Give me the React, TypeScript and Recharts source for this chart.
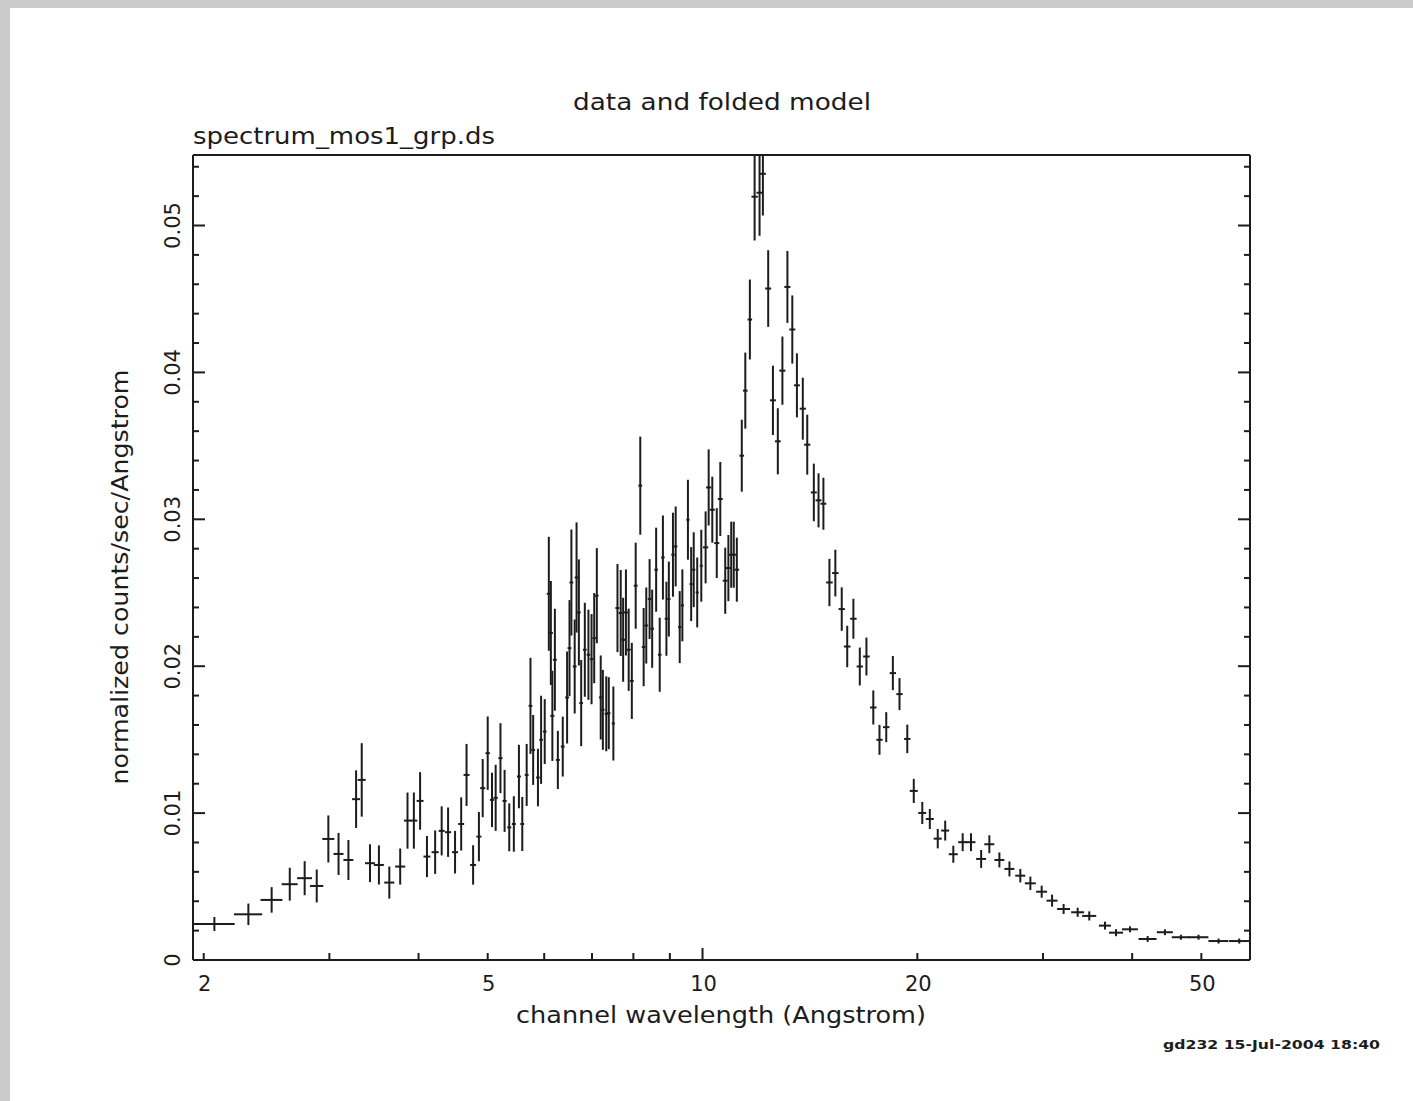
import React from "react";
import { ScatterChart, Scatter, XAxis, YAxis, ErrorBar } from "recharts";

// channel wavelength (Angstrom), bin centres
const wavelength = [
  2.07, 2.31, 2.49, 2.64, 2.77, 2.88, 2.99, 3.09, 3.19, 3.27,
  3.33, 3.42, 3.52, 3.64, 3.77, 3.86, 3.94, 4.02, 4.11, 4.22,
  4.31, 4.40, 4.50, 4.59, 4.67, 4.77, 4.86, 4.92, 5.00, 5.07,
  5.13, 5.21, 5.28, 5.36, 5.44, 5.53, 5.59, 5.67, 5.74, 5.79,
  5.88, 5.94, 6.01, 6.09, 6.13, 6.16, 6.21, 6.27, 6.37, 6.46,
  6.51, 6.55, 6.62, 6.66, 6.71, 6.76, 6.84, 6.92, 6.99, 7.05,
  7.11, 7.20, 7.25, 7.33, 7.39, 7.50, 7.60, 7.68, 7.74, 7.81,
  7.88, 7.96, 8.06, 8.18, 8.27, 8.34, 8.43, 8.50, 8.61, 8.71,
  8.80, 8.90, 8.97, 9.09, 9.17, 9.29, 9.37, 9.54, 9.64, 9.72,
  9.83, 9.96, 10.10, 10.20, 10.32, 10.47, 10.59, 10.76, 10.87, 10.97,
  11.06, 11.17, 11.35, 11.48, 11.65, 11.83, 12.02, 12.15, 12.36, 12.55,
  12.75, 12.94, 13.15, 13.36, 13.56, 13.82, 14.02, 14.32, 14.54, 14.77,
  15.06, 15.35, 15.67, 15.95, 16.27, 16.61, 16.97, 17.35, 17.70, 18.09,
  18.48, 18.88, 19.36, 19.77, 20.32, 20.82, 21.36, 21.88, 22.46, 23.15,
  23.78, 24.57, 25.23, 26.06, 26.92, 27.88, 28.80, 29.87, 30.89, 32.06,
  33.55, 34.83, 36.64, 37.97, 39.72, 42.05, 44.46, 46.81, 49.55, 52.86,
  56.50,
];

// half width of each channel bin (Angstrom)
const binHalf = [
  0.140, 0.105, 0.088, 0.068, 0.067, 0.062, 0.058, 0.050, 0.051, 0.042,
  0.043, 0.055, 0.057, 0.059, 0.061, 0.044, 0.044, 0.045, 0.046, 0.048,
  0.042, 0.043, 0.044, 0.044, 0.045, 0.046, 0.039, 0.040, 0.035, 0.035,
  0.035, 0.035, 0.035, 0.035, 0.035, 0.035, 0.035, 0.035, 0.035, 0.035,
  0.035, 0.035, 0.035, 0.040, 0.040, 0.040, 0.040, 0.040, 0.040, 0.040,
  0.040, 0.040, 0.040, 0.040, 0.040, 0.040, 0.040, 0.040, 0.040, 0.040,
  0.040, 0.040, 0.040, 0.040, 0.040, 0.040, 0.050, 0.050, 0.050, 0.050,
  0.050, 0.050, 0.050, 0.050, 0.050, 0.050, 0.050, 0.050, 0.050, 0.050,
  0.050, 0.050, 0.050, 0.050, 0.050, 0.050, 0.050, 0.050, 0.050, 0.050,
  0.050, 0.050, 0.085, 0.085, 0.085, 0.085, 0.085, 0.085, 0.085, 0.085,
  0.085, 0.085, 0.085, 0.085, 0.085, 0.120, 0.120, 0.120, 0.120, 0.120,
  0.120, 0.130, 0.130, 0.130, 0.130, 0.140, 0.140, 0.140, 0.140, 0.140,
  0.160, 0.160, 0.160, 0.170, 0.170, 0.170, 0.180, 0.180, 0.180, 0.190,
  0.190, 0.190, 0.200, 0.255, 0.262, 0.269, 0.276, 0.282, 0.326, 0.336,
  0.345, 0.396, 0.407, 0.420, 0.434, 0.450, 0.510, 0.530, 0.550, 0.670,
  0.700, 0.790, 0.710, 0.860, 1.020, 1.220, 1.150, 1.360, 1.600, 1.700,
  1.820,
];

// normalized counts/sec/Angstrom
const rate = [
  0.00245, 0.00311, 0.00409, 0.00516, 0.00557, 0.00504, 0.00824, 0.00722, 0.00681, 0.01095,
  0.01226, 0.00659, 0.00647, 0.00527, 0.00636, 0.00949, 0.00949, 0.01083, 0.00704, 0.00734,
  0.00879, 0.00870, 0.00734, 0.00926, 0.01260, 0.00647, 0.00840, 0.01170, 0.01408, 0.01090,
  0.01104, 0.01374, 0.01083, 0.00903, 0.00926, 0.01249, 0.00926, 0.01260, 0.01730, 0.01430,
  0.01242, 0.01499, 0.01555, 0.02493, 0.02226, 0.01662, 0.02044, 0.01362, 0.01453, 0.01787,
  0.02123, 0.02570, 0.01998, 0.02604, 0.02366, 0.01749, 0.02112, 0.02078, 0.02048, 0.02191,
  0.02480, 0.01787, 0.01703, 0.01676, 0.01680, 0.01610, 0.02396, 0.02362, 0.02180, 0.02366,
  0.02112, 0.01900, 0.02548, 0.03229, 0.02130, 0.02277, 0.02457, 0.02255, 0.02657, 0.02078,
  0.02740, 0.02323, 0.02457, 0.02759, 0.02815, 0.02266, 0.02414, 0.02997, 0.02559, 0.02657,
  0.02502, 0.02684, 0.02809, 0.03217, 0.03065, 0.02838, 0.03138, 0.02582, 0.02668, 0.02759,
  0.02759, 0.02657, 0.03433, 0.03876, 0.04360, 0.05196, 0.05223, 0.05352, 0.04571, 0.03810,
  0.03531, 0.04012, 0.04582, 0.04292, 0.03912, 0.03753, 0.03508, 0.03183, 0.03129, 0.03106,
  0.02570, 0.02634, 0.02389, 0.02134, 0.02323, 0.01998, 0.02066, 0.01719, 0.01499, 0.01585,
  0.01953, 0.01810, 0.01505, 0.01151, 0.01001, 0.00960, 0.00826, 0.00881, 0.00720, 0.00802,
  0.00802, 0.00688, 0.00788, 0.00681, 0.00620, 0.00574, 0.00522, 0.00465, 0.00404, 0.00347,
  0.00325, 0.00300, 0.00234, 0.00186, 0.00209, 0.00143, 0.00189, 0.00155, 0.00155, 0.00129,
  0.00129,
];

// 1-sigma error on the rate
const rateErr = [
  0.00048, 0.00073, 0.00087, 0.00112, 0.00116, 0.00112, 0.00160, 0.00143, 0.00136, 0.00196,
  0.00250, 0.00129, 0.00133, 0.00109, 0.00123, 0.00191, 0.00191, 0.00196, 0.00140, 0.00148,
  0.00167, 0.00168, 0.00145, 0.00181, 0.00211, 0.00134, 0.00168, 0.00198, 0.00250, 0.00185,
  0.00225, 0.00238, 0.00211, 0.00163, 0.00189, 0.00216, 0.00184, 0.00211, 0.00327, 0.00238,
  0.00196, 0.00300, 0.00221, 0.00388, 0.00354, 0.00307, 0.00347, 0.00198, 0.00204, 0.00313,
  0.00327, 0.00361, 0.00320, 0.00375, 0.00361, 0.00293, 0.00320, 0.00307, 0.00307, 0.00307,
  0.00324, 0.00286, 0.00272, 0.00255, 0.00245, 0.00252, 0.00300, 0.00293, 0.00286, 0.00293,
  0.00280, 0.00259, 0.00293, 0.00334, 0.00266, 0.00259, 0.00272, 0.00266, 0.00286, 0.00252,
  0.00286, 0.00252, 0.00255, 0.00286, 0.00272, 0.00245, 0.00245, 0.00272, 0.00252, 0.00255,
  0.00238, 0.00245, 0.00245, 0.00259, 0.00225, 0.00238, 0.00252, 0.00225, 0.00225, 0.00225,
  0.00225, 0.00218, 0.00245, 0.00259, 0.00272, 0.00298, 0.00293, 0.00284, 0.00261, 0.00236,
  0.00225, 0.00232, 0.00245, 0.00232, 0.00218, 0.00211, 0.00204, 0.00196, 0.00184, 0.00177,
  0.00161, 0.00159, 0.00148, 0.00141, 0.00136, 0.00129, 0.00129, 0.00116, 0.00102, 0.00102,
  0.00116, 0.00109, 0.00097, 0.00082, 0.00075, 0.00068, 0.00066, 0.00068, 0.00058, 0.00061,
  0.00061, 0.00061, 0.00061, 0.00051, 0.00051, 0.00046, 0.00046, 0.00041, 0.00041, 0.00034,
  0.00031, 0.00031, 0.00027, 0.00024, 0.00020, 0.00020, 0.00020, 0.00017, 0.00017, 0.00017,
  0.00017,
];

const xTicks = [2, 3, 4, 5, 6, 7, 8, 9, 10, 20, 30, 40, 50];
const xTickLabels = [2, 5, 10, 20, 50];
const yTicks = [
  0, 0.002, 0.004, 0.006, 0.008, 0.01, 0.012, 0.014, 0.016, 0.018,
  0.02, 0.022, 0.024, 0.026, 0.028, 0.03, 0.032, 0.034, 0.036, 0.038,
  0.04, 0.042, 0.044, 0.046, 0.048, 0.05, 0.052, 0.054,
];
const yTickLabels = [0, 0.01, 0.02, 0.03, 0.04, 0.05];

const X_DOMAIN: [number, number] = [1.932, 58.5];
const Y_DOMAIN: [number, number] = [0, 0.0548];

// plot frame in page pixels (used for the overlay mask above the frame)
const FRAME = { left: 193, top: 155, right: 1250 };

const INK = "#1c1c1c";
const FONT = "'DejaVu Sans', sans-serif";

const points = wavelength.map((w, i) => ({
  w,
  rate: rate[i],
  dx: binHalf[i],
  dy: rateErr[i],
}));

const isLabelledY = (v: number) => yTickLabels.some((t) => Math.abs(t - v) < 1e-9);
const fmtY = (v: number) => (v === 0 ? "0" : v.toFixed(2));
const xTickLen = (v: number) => (v === 10 ? 12 : 7);
const yTickLen = (v: number) => (isLabelledY(v) ? 12 : 6);

function BottomTick(props: any) {
  const { x, y, payload } = props;
  const v = payload.value;
  return (
    <g>
      <line x1={x} y1={y} x2={x} y2={y - xTickLen(v)} stroke={INK} strokeWidth={2} />
      {xTickLabels.includes(v) && (
        <text x={x + 1} y={y + 31} textAnchor="middle" fontSize={21} fontFamily={FONT} fill={INK}>
          {v}
        </text>
      )}
    </g>
  );
}

function TopTick(props: any) {
  const { x, y, payload } = props;
  return <line x1={x} y1={y} x2={x} y2={y + xTickLen(payload.value)} stroke={INK} strokeWidth={2} />;
}

function LeftTick(props: any) {
  const { x, y, payload } = props;
  const v = payload.value;
  return (
    <g>
      <line x1={x} y1={y} x2={x + yTickLen(v)} y2={y} stroke={INK} strokeWidth={2} />
      {isLabelledY(v) && (
        <text
          transform={`translate(${x - 21},${y}) rotate(-90)`}
          textAnchor="middle"
          dy="0.36em"
          fontSize={21}
          fontFamily={FONT}
          fill={INK}
        >
          {fmtY(v)}
        </text>
      )}
    </g>
  );
}

function RightTick(props: any) {
  const { x, y, payload } = props;
  return <line x1={x} y1={y} x2={x - yTickLen(payload.value)} y2={y} stroke={INK} strokeWidth={2} />;
}

const axisLine = { stroke: INK, strokeWidth: 2 };

export default function App() {
  return (
    <div style={{ position: "absolute", left: 0, top: 0, width: 1413, height: 1101, background: "#fff" }}>
      <div style={{ position: "absolute", left: 0, top: 0, width: 1413, height: 8, background: "#cbcbcb" }} />
      <div style={{ position: "absolute", left: 0, top: 0, width: 10, height: 1101, background: "#cbcbcb" }} />

      <div style={{ position: "absolute", left: 0, top: 0 }}>
        <ScatterChart width={1413} height={1101} margin={{ top: 145, right: 153, bottom: 81, left: 113 }}>
          <XAxis
            dataKey="w"
            type="number"
            scale="log"
            domain={X_DOMAIN}
            allowDataOverflow
            ticks={xTicks}
            interval={0}
            height={60}
            tickSize={0}
            tickMargin={0}
            tickLine={false}
            axisLine={axisLine}
            tick={BottomTick}
          />
          <XAxis
            xAxisId="top"
            orientation="top"
            type="number"
            scale="log"
            domain={X_DOMAIN}
            allowDataOverflow
            ticks={xTicks}
            interval={0}
            height={10}
            tickSize={0}
            tickMargin={0}
            tickLine={false}
            axisLine={axisLine}
            tick={TopTick}
          />
          <YAxis
            dataKey="rate"
            type="number"
            domain={Y_DOMAIN}
            allowDataOverflow
            ticks={yTicks}
            interval={0}
            width={80}
            tickSize={0}
            tickMargin={0}
            tickLine={false}
            axisLine={axisLine}
            tick={LeftTick}
          />
          <YAxis
            yAxisId="right"
            orientation="right"
            type="number"
            domain={Y_DOMAIN}
            allowDataOverflow
            ticks={yTicks}
            interval={0}
            width={10}
            tickSize={0}
            tickMargin={0}
            tickLine={false}
            axisLine={axisLine}
            tick={RightTick}
          />
          <Scatter data={points} isAnimationActive={false} shape={() => <g />}>
            <ErrorBar dataKey="dx" direction="x" width={0} stroke={INK} strokeWidth={2} isAnimationActive={false} />
            <ErrorBar dataKey="dy" direction="y" width={0} stroke={INK} strokeWidth={2} isAnimationActive={false} />
          </Scatter>
        </ScatterChart>
      </div>

      <svg
        width={1413}
        height={1101}
        style={{ position: "absolute", left: 0, top: 0, pointerEvents: "none" }}
        fontFamily={FONT}
        fill={INK}
      >
        {/* error bars running past the top of the frame are cut off at the frame */}
        <rect
          x={FRAME.left + 2}
          y={8}
          width={FRAME.right - FRAME.left - 4}
          height={FRAME.top - 9}
          fill="#fff"
        />
        <text x={722} y={110} textAnchor="middle" fontSize={23} textLength={298} lengthAdjust="spacingAndGlyphs">
          data and folded model
        </text>
        <text x={193} y={144} fontSize={23} textLength={302} lengthAdjust="spacingAndGlyphs">
          spectrum_mos1_grp.ds
        </text>
        <text x={721} y={1023} textAnchor="middle" fontSize={23} textLength={410} lengthAdjust="spacingAndGlyphs">
          channel wavelength (Angstrom)
        </text>
        <text
          transform="translate(128,577) rotate(-90)"
          textAnchor="middle"
          fontSize={23}
          textLength={415}
          lengthAdjust="spacingAndGlyphs"
        >
          normalized counts/sec/Angstrom
        </text>
        <text x={1163} y={1049} fontSize={13} fontWeight={600} textLength={217} lengthAdjust="spacingAndGlyphs">
          gd232 15-Jul-2004 18:40
        </text>
      </svg>
    </div>
  );
}
